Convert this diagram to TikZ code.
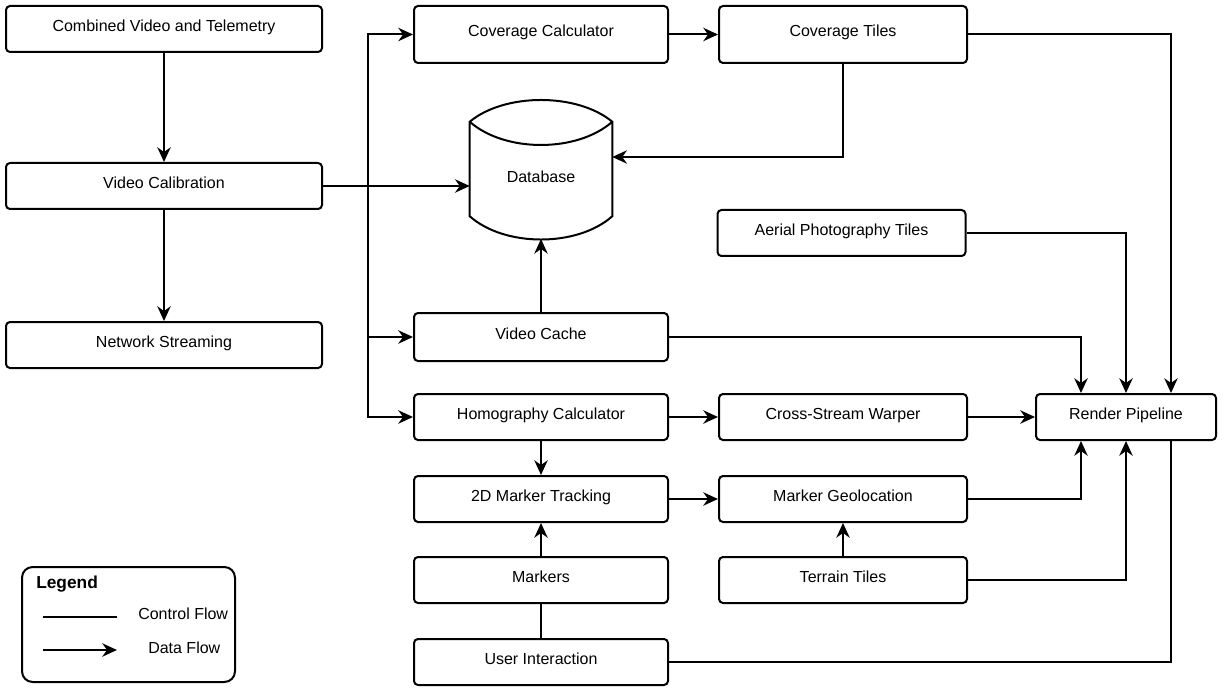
\documentclass[tikz,border=0pt]{standalone}
\usepackage{fontspec}
\setmainfont{Liberation Sans}
\usetikzlibrary{arrows.meta,positioning,calc}

\begin{document}
\begin{tikzpicture}[
	x=0.75pt, y=-0.75pt,
	txt/.style  = {inner sep=0pt, font=\fontsize{12pt}{14pt}\selectfont, text height=1.6ex, text depth=1ex},
	rec/.style  = {txt, draw, rectangle, rounded corners=3pt, line width=1.5pt, align=center, minimum height=34.5pt},
	lcol/.style = {rec, minimum width=237pt},
	mcol/.style = {rec, minimum width=190.5pt},
	rcol/.style = {rec, minimum width=186pt},
	tall/.style = {minimum height=42.75pt},
	link/.style = {line width=1.5pt},
	flow/.style = {link, -{Stealth[length=11pt, width=10pt, inset=3.5pt]}}]

	\useasboundingbox (0,0) rectangle (1225,688);

	% left column
	\node[lcol] (comb) at (164,29) {Combined Video and Telemetry};
	\node[lcol] (vcal) at (164,186) {Video Calibration};
	\node[lcol] (net) at (164,345) {Network Streaming};

	% middle and right columns
	\node[mcol, tall] (covc) at (541,34.5) {Coverage Calculator};
	\node[rcol, tall, right=36.75pt of covc] (covt) {Coverage Tiles};
	\node[rcol] (aerial) at (841.5,233) {Aerial Photography Tiles};
	\node[mcol, minimum height=36pt] (vcache) at (541,337) {Video Cache};
	\node[mcol] (homog) at (541,417) {Homography Calculator};
	\node[rcol, right=36.75pt of homog] (warp) {Cross-Stream Warper};
	\node[mcol] (track) at (541,499) {2D Marker Tracking};
	\node[rcol, right=36.75pt of track] (geo) {Marker Geolocation};
	\node[mcol] (markers) at (541,580) {Markers};
	\node[rcol, right=36.75pt of markers] (terrain) {Terrain Tiles};
	\node[mcol] (user) at (541,662) {User Interaction};
	\node[rec, minimum width=135pt] (render) at (1126,417) {Render Pipeline};

	% database
	\node[inner sep=0pt, minimum width=106.5pt, minimum height=70.5pt] (db) at (541,169) {};
	\draw[link] (db.north west) .. controls +(35,-29) and +(-35,-29) .. (db.north east)
		-- (db.south east) .. controls +(-35,31) and +(35,31) .. (db.south west) -- cycle
		(db.north west) .. controls +(35,31) and +(-35,31) .. (db.north east);
	\node[txt] (dblabel) at (541,180) {Database};
	\coordinate (dbbase) at ([yshift=-17pt]db.south);
	\coordinate (bus) at (368,186);

	\foreach \a/\b in {comb/vcal, vcal/net, covc/covt, homog/warp, homog/track,
		track/geo, markers/track, terrain/geo, warp/render}
	\draw[flow] (\a) -- (\b);

	\draw[flow] (vcal.east) -- (vcal.east -| db.west);
	\foreach \t in {covc, vcache, homog}
	\draw[flow] (vcal.east) -- (bus) |- (\t.west);

	\draw[flow] (covt.south) |- ([yshift=9pt]db.east);
	\draw[flow] (vcache.north) -- (dbbase);

	\draw[flow] (vcache.east) -| ([xshift=-33.75pt]render.north);
	\draw[flow] (aerial.east) -| (render.north);
	\draw[flow] (covt.east) -| ([xshift=33.75pt]render.north);
	\draw[flow] (geo.east) -| ([xshift=-33.75pt]render.south);
	\draw[flow] (terrain.east) -| (render.south);
	\draw[link] (user.east) -| ([xshift=33.75pt]render.south);
	\draw[link] (markers) -- (user);

	% legend
	\node[draw, line width=1.5pt, rounded corners=8pt, minimum width=159.75pt, minimum height=86.25pt] (legend) at (128.5,624.5) {};
	\node[txt, anchor=west, font=\fontsize{13pt}{15pt}\selectfont\bfseries] (legtitle) at (36,586) {Legend};
	\coordinate (cfa) at (43,617);
	\coordinate (cfb) at (117,617);
	\draw[link] (cfa) -- (cfb);
	\node[txt, anchor=west] (cflabel) at (138,617) {Control Flow};
	\coordinate (dfa) at (43,650);
	\coordinate (dfb) at (117,650);
	\draw[flow] (dfa) -- (dfb);
	\node[txt, anchor=west] (dflabel) at (148,651) {Data Flow};
\end{tikzpicture}
\end{document}
